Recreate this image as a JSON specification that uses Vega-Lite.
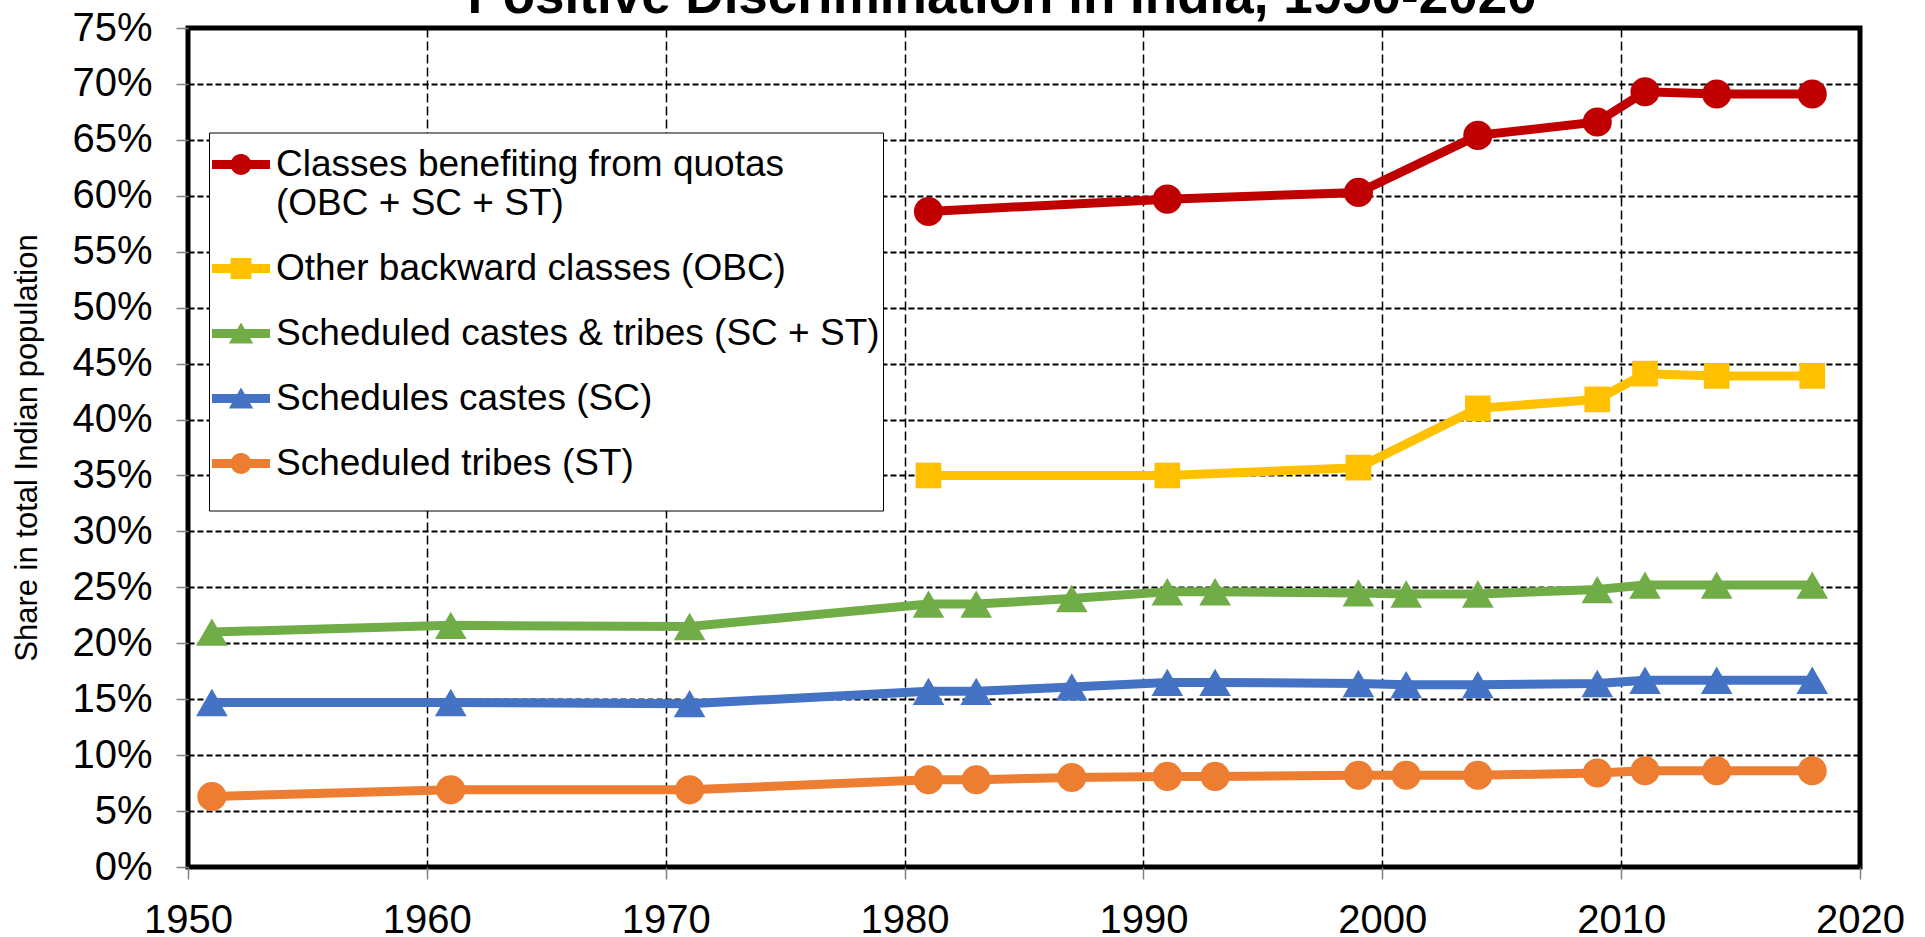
{
  "$schema": "https://vega.github.io/schema/vega-lite/v6.json",
  "width": 1672,
  "height": 839,
  "autosize": {"type": "none"},
  "padding": {"left": 188, "top": 28, "right": 65, "bottom": 70},
  "background": "white",
  "title": {
    "text": "Positive Discrimination in India, 1950-2020",
    "font": "Liberation Sans",
    "fontSize": 53,
    "fontWeight": "bold",
    "color": "black",
    "anchor": "middle",
    "frame": "group",
    "baseline": "alphabetic",
    "offset": -58,
    "dx": -22
  },
  "config": {
    "font": "Liberation Sans",
    "view": {"stroke": "black", "strokeWidth": 5},
    "axis": {
      "labelFont": "Liberation Sans",
      "labelFontSize": 40,
      "labelColor": "black",
      "tickSize": 12,
      "tickColor": "#808080",
      "tickWidth": 1.5,
      "domain": false,
      "grid": true,
      "gridColor": "black",
      "gridOpacity": 1
    },
    "legend": {
      "orient": "none",
      "legendX": 21,
      "legendY": 104.5,
      "padding": 3,
      "strokeColor": "black",
      "fillColor": "white",
      "symbolSize": 3364,
      "symbolStrokeWidth": 0,
      "symbolOpacity": 1,
      "labelFont": "Liberation Sans",
      "labelFontSize": 37,
      "labelColor": "black",
      "labelLimit": 1000,
      "labelOffset": 6,
      "rowPadding": 18,
      "titleOrient": "bottom",
      "titleFontSize": 20,
      "titlePadding": 6
    }
  },
  "data": {
    "values": [
      {"series": "Classes benefiting from quotas (OBC + SC + ST)", "year": 1981, "value": 0.586},
      {"series": "Classes benefiting from quotas (OBC + SC + ST)", "year": 1991, "value": 0.597},
      {"series": "Classes benefiting from quotas (OBC + SC + ST)", "year": 1999, "value": 0.603},
      {"series": "Classes benefiting from quotas (OBC + SC + ST)", "year": 2004, "value": 0.654},
      {"series": "Classes benefiting from quotas (OBC + SC + ST)", "year": 2009, "value": 0.666},
      {"series": "Classes benefiting from quotas (OBC + SC + ST)", "year": 2011, "value": 0.693},
      {"series": "Classes benefiting from quotas (OBC + SC + ST)", "year": 2014, "value": 0.691},
      {"series": "Classes benefiting from quotas (OBC + SC + ST)", "year": 2018, "value": 0.691},
      {"series": "Other backward classes (OBC)", "year": 1981, "value": 0.350},
      {"series": "Other backward classes (OBC)", "year": 1991, "value": 0.350},
      {"series": "Other backward classes (OBC)", "year": 1999, "value": 0.357},
      {"series": "Other backward classes (OBC)", "year": 2004, "value": 0.410},
      {"series": "Other backward classes (OBC)", "year": 2009, "value": 0.418},
      {"series": "Other backward classes (OBC)", "year": 2011, "value": 0.441},
      {"series": "Other backward classes (OBC)", "year": 2014, "value": 0.439},
      {"series": "Other backward classes (OBC)", "year": 2018, "value": 0.439},
      {"series": "Scheduled castes & tribes (SC + ST)", "year": 1951, "value": 0.210},
      {"series": "Scheduled castes & tribes (SC + ST)", "year": 1961, "value": 0.216},
      {"series": "Scheduled castes & tribes (SC + ST)", "year": 1971, "value": 0.215},
      {"series": "Scheduled castes & tribes (SC + ST)", "year": 1981, "value": 0.235},
      {"series": "Scheduled castes & tribes (SC + ST)", "year": 1983, "value": 0.235},
      {"series": "Scheduled castes & tribes (SC + ST)", "year": 1987, "value": 0.240},
      {"series": "Scheduled castes & tribes (SC + ST)", "year": 1991, "value": 0.246},
      {"series": "Scheduled castes & tribes (SC + ST)", "year": 1993, "value": 0.246},
      {"series": "Scheduled castes & tribes (SC + ST)", "year": 1999, "value": 0.245},
      {"series": "Scheduled castes & tribes (SC + ST)", "year": 2001, "value": 0.244},
      {"series": "Scheduled castes & tribes (SC + ST)", "year": 2004, "value": 0.244},
      {"series": "Scheduled castes & tribes (SC + ST)", "year": 2009, "value": 0.248},
      {"series": "Scheduled castes & tribes (SC + ST)", "year": 2011, "value": 0.252},
      {"series": "Scheduled castes & tribes (SC + ST)", "year": 2014, "value": 0.252},
      {"series": "Scheduled castes & tribes (SC + ST)", "year": 2018, "value": 0.252},
      {"series": "Schedules castes (SC)", "year": 1951, "value": 0.147},
      {"series": "Schedules castes (SC)", "year": 1961, "value": 0.147},
      {"series": "Schedules castes (SC)", "year": 1971, "value": 0.146},
      {"series": "Schedules castes (SC)", "year": 1981, "value": 0.157},
      {"series": "Schedules castes (SC)", "year": 1983, "value": 0.157},
      {"series": "Schedules castes (SC)", "year": 1987, "value": 0.161},
      {"series": "Schedules castes (SC)", "year": 1991, "value": 0.165},
      {"series": "Schedules castes (SC)", "year": 1993, "value": 0.165},
      {"series": "Schedules castes (SC)", "year": 1999, "value": 0.164},
      {"series": "Schedules castes (SC)", "year": 2001, "value": 0.163},
      {"series": "Schedules castes (SC)", "year": 2004, "value": 0.163},
      {"series": "Schedules castes (SC)", "year": 2009, "value": 0.164},
      {"series": "Schedules castes (SC)", "year": 2011, "value": 0.167},
      {"series": "Schedules castes (SC)", "year": 2014, "value": 0.167},
      {"series": "Schedules castes (SC)", "year": 2018, "value": 0.167},
      {"series": "Scheduled tribes (ST)", "year": 1951, "value": 0.063},
      {"series": "Scheduled tribes (ST)", "year": 1961, "value": 0.069},
      {"series": "Scheduled tribes (ST)", "year": 1971, "value": 0.069},
      {"series": "Scheduled tribes (ST)", "year": 1981, "value": 0.078},
      {"series": "Scheduled tribes (ST)", "year": 1983, "value": 0.078},
      {"series": "Scheduled tribes (ST)", "year": 1987, "value": 0.080},
      {"series": "Scheduled tribes (ST)", "year": 1991, "value": 0.081},
      {"series": "Scheduled tribes (ST)", "year": 1993, "value": 0.081},
      {"series": "Scheduled tribes (ST)", "year": 1999, "value": 0.082},
      {"series": "Scheduled tribes (ST)", "year": 2001, "value": 0.082},
      {"series": "Scheduled tribes (ST)", "year": 2004, "value": 0.082},
      {"series": "Scheduled tribes (ST)", "year": 2009, "value": 0.084},
      {"series": "Scheduled tribes (ST)", "year": 2011, "value": 0.086},
      {"series": "Scheduled tribes (ST)", "year": 2014, "value": 0.086},
      {"series": "Scheduled tribes (ST)", "year": 2018, "value": 0.086}
    ]
  },
  "encoding": {
    "x": {
      "field": "year",
      "type": "quantitative",
      "scale": {"domain": [1950, 2020], "nice": false, "zero": false},
      "axis": {
        "title": null,
        "values": [1950, 1960, 1970, 1980, 1990, 2000, 2010, 2020],
        "format": "d",
        "labelPadding": 21,
        "labelFlush": false,
        "gridDash": [9, 4],
        "gridWidth": 1.5
      }
    },
    "y": {
      "field": "value",
      "type": "quantitative",
      "scale": {"domain": [0, 0.75], "nice": false},
      "axis": {
        "title": "Share in total Indian population",
        "titleFont": "Liberation Sans",
        "titleFontSize": 31,
        "titleFontWeight": "normal",
        "titleColor": "black",
        "titlePadding": 28,
        "values": [0, 0.05, 0.1, 0.15, 0.2, 0.25, 0.3, 0.35, 0.4, 0.45, 0.5, 0.55, 0.6, 0.65, 0.7, 0.75],
        "format": ".0%",
        "labelPadding": 24,
        "gridDash": [6, 3],
        "gridWidth": 2
      }
    },
    "color": {
      "field": "series",
      "type": "nominal",
      "scale": {
        "domain": ["Classes benefiting from quotas (OBC + SC + ST)", "Other backward classes (OBC)", "Scheduled castes & tribes (SC + ST)", "Schedules castes (SC)", "Scheduled tribes (ST)"],
        "range": ["#C00000", "#FFC000", "#70AD47", "#4472C4", "#ED7D31"]
      },
      "legend": {
        "title": " ",
        "labelExpr": "datum.value === 'Classes benefiting from quotas (OBC + SC + ST)' ? ['Classes benefiting from quotas', '(OBC + SC + ST)'] : datum.label"
      }
    }
  },
  "layer": [
    {
      "mark": {"type": "point", "filled": true, "opacity": 0, "size": 1},
      "encoding": {
        "shape": {
          "field": "series",
          "type": "nominal",
          "scale": {
            "domain": ["Classes benefiting from quotas (OBC + SC + ST)", "Other backward classes (OBC)", "Scheduled castes & tribes (SC + ST)", "Schedules castes (SC)", "Scheduled tribes (ST)"],
            "range": [
              "M-1,-0.155L-0.325,-0.155A0.36,0.36,0,0,1,0.325,-0.155L1,-0.155L1,0.155L0.325,0.155A0.36,0.36,0,0,1,-0.325,0.155L-1,0.155Z",
              "M-1,-0.155L-0.36,-0.155L-0.36,-0.36L0.36,-0.36L0.36,-0.155L1,-0.155L1,0.155L0.36,0.155L0.36,0.36L-0.36,0.36L-0.36,0.155L-1,0.155Z",
              "M-1,-0.155L-0.13,-0.155L0,-0.38L0.13,-0.155L1,-0.155L1,0.155L0.31,0.155L0.42,0.345L-0.42,0.345L-0.31,0.155L-1,0.155Z",
              "M-1,-0.155L-0.13,-0.155L0,-0.38L0.13,-0.155L1,-0.155L1,0.155L0.31,0.155L0.42,0.345L-0.42,0.345L-0.31,0.155L-1,0.155Z",
              "M-1,-0.155L-0.325,-0.155A0.36,0.36,0,0,1,0.325,-0.155L1,-0.155L1,0.155L0.325,0.155A0.36,0.36,0,0,1,-0.325,0.155L-1,0.155Z"
            ]
          },
          "legend": {
            "title": " ",
            "labelExpr": "datum.value === 'Classes benefiting from quotas (OBC + SC + ST)' ? ['Classes benefiting from quotas', '(OBC + SC + ST)'] : datum.label"
          }
        }
      }
    },
    {
      "mark": {"type": "line", "strokeWidth": 9}
    },
    {
      "transform": [{"filter": {"field": "series", "oneOf": ["Classes benefiting from quotas (OBC + SC + ST)", "Scheduled tribes (ST)"]}}],
      "mark": {"type": "point", "filled": true, "shape": "circle", "size": 850, "opacity": 1}
    },
    {
      "transform": [{"filter": {"field": "series", "equal": "Other backward classes (OBC)"}}],
      "mark": {"type": "point", "filled": true, "shape": "square", "size": 660, "opacity": 1}
    },
    {
      "transform": [{"filter": {"field": "series", "oneOf": ["Scheduled castes & tribes (SC + ST)", "Schedules castes (SC)"]}}],
      "mark": {"type": "point", "filled": true, "shape": "triangle-up", "size": 1000, "opacity": 1}
    }
  ]
}
